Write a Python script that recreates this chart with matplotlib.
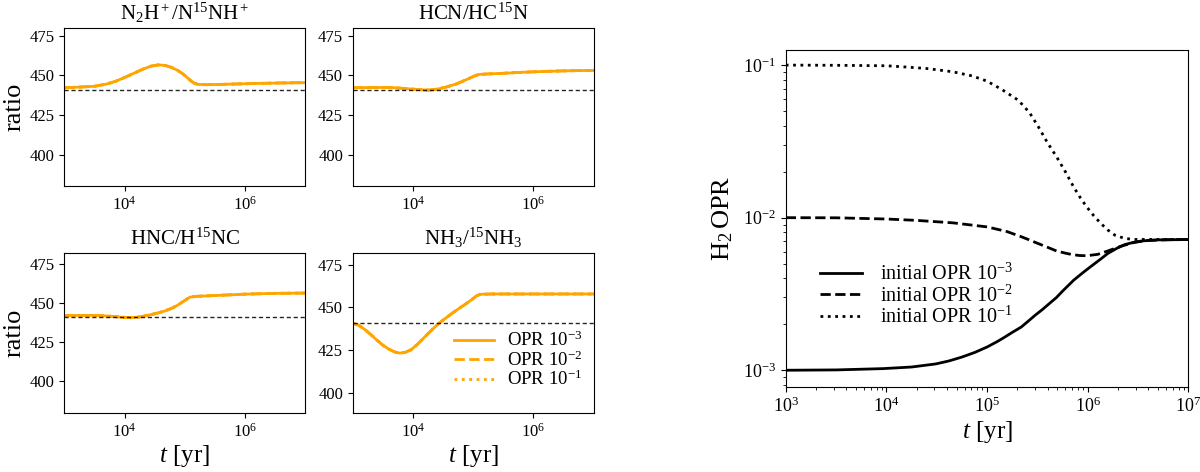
import matplotlib
matplotlib.use('Agg')
import matplotlib.pyplot as plt
from matplotlib.ticker import NullLocator, LogLocator
import numpy as np

plt.rcParams['font.family'] = ['Liberation Serif', 'DejaVu Serif']
plt.rcParams['mathtext.fontset'] = 'custom'
plt.rcParams['mathtext.rm'] = 'Liberation Serif'
plt.rcParams['mathtext.it'] = 'Liberation Serif:italic'
plt.rcParams['mathtext.bf'] = 'Liberation Serif:bold'

# ---- left panels: isotopic ratios (log10 t [yr], ratio) ----
titles = [r'N$_2$H$^+$/N$^{15}$NH$^+$', r'HCN/HC$^{15}$N',
          r'HNC/H$^{15}$NC', r'NH$_3$/$^{15}$NH$_3$']

n2hp_logt = [3.0, 3.25, 3.5, 3.7, 3.85, 4.0, 4.15, 4.3, 4.45, 4.57, 4.68, 4.78,
             4.88, 4.96, 5.03, 5.1, 5.16, 5.22, 5.35, 5.7, 6.2, 6.6, 7.0]
n2hp_ratio = [442.2, 442.6, 443.1, 444.5, 446.2, 448.6, 451.2, 453.8, 455.9, 456.6,
              456.2, 455.0, 453.2, 451.2, 449.0, 446.6, 445.0, 444.3, 444.1, 444.4,
              444.9, 445.2, 445.4]

hcn_logt = [3.0, 3.3, 3.62, 3.9, 4.1, 4.26, 4.4, 4.55, 4.73, 4.9, 5.02, 5.09,
            5.2, 5.5, 5.8, 6.2, 6.6, 7.0]
hcn_ratio = [442.2, 442.3, 442.4, 441.6, 441.0, 440.7, 441.3, 442.6, 444.7, 447.5,
             449.6, 450.5, 450.8, 451.3, 451.9, 452.5, 452.9, 453.1]

hnc_logt = [3.0, 3.3, 3.55, 3.75, 3.94, 4.1, 4.25, 4.38, 4.52, 4.66, 4.78, 4.88,
            4.97, 5.04, 5.09, 5.2, 5.5, 6.0, 6.5, 7.0]
hnc_ratio = [441.9, 442.0, 442.0, 441.5, 440.9, 440.5, 441.0, 442.0, 443.2, 444.7,
             446.5, 448.5, 450.8, 452.6, 453.8, 454.3, 454.8, 455.7, 456.2, 456.4]

nh3_logt = [3.0, 3.1, 3.2, 3.3, 3.4, 3.5, 3.6, 3.7, 3.78, 3.87, 3.97, 4.08, 4.2,
            4.32, 4.43, 4.55, 4.65, 4.76, 4.87, 4.98, 5.06, 5.12, 5.3, 6.0, 7.0]
nh3_ratio = [440.6, 439.5, 437.0, 434.0, 430.8, 427.8, 425.5, 423.8, 423.2, 423.6,
             425.2, 428.5, 432.8, 437.0, 440.6, 443.8, 446.5, 449.2, 451.8, 454.6,
             456.8, 457.6, 457.8, 457.8, 457.8]

initial_ratio = 441
ratio_ylims = [(380.3, 480.0), (380.3, 480.0), (379.3, 482.0), (388.3, 481.6)]
opr_labels = [r'OPR $10^{-3}$', r'OPR $10^{-2}$', r'OPR $10^{-1}$']

# ---- right panel: H2 ortho/para ratio ----
opr3_logt = [3.0, 3.5, 3.97, 4.25, 4.49, 4.62, 4.75, 4.88, 5.0, 5.1, 5.17, 5.25,
             5.34, 5.41, 5.48, 5.55, 5.62, 5.69, 5.75, 5.86, 5.95, 6.03, 6.12,
             6.2, 6.29, 6.37, 6.46, 6.54, 6.7, 7.0]
opr3 = [1.0e-3, 1.005e-3, 1.025e-3, 1.05e-3, 1.10e-3, 1.15e-3, 1.22e-3, 1.31e-3,
        1.42e-3, 1.54e-3, 1.64e-3, 1.77e-3, 1.92e-3, 2.1e-3, 2.3e-3, 2.5e-3,
        2.74e-3, 3.0e-3, 3.3e-3, 3.89e-3, 4.35e-3, 4.78e-3, 5.3e-3, 5.83e-3,
        6.3e-3, 6.67e-3, 6.9e-3, 7.04e-3, 7.15e-3, 7.19e-3]

opr2_logt = [3.0, 3.5, 4.0, 4.3, 4.66, 5.0, 5.1, 5.2, 5.34, 5.42, 5.5, 5.6, 5.69,
             5.78, 5.85, 5.92, 5.99, 6.1, 6.2, 6.33, 6.47, 6.6, 6.8, 7.0]
opr2 = [1.0e-2, 9.98e-3, 9.8e-3, 9.6e-3, 9.25e-3, 8.7e-3, 8.4e-3, 8.1e-3, 7.5e-3,
        7.15e-3, 6.8e-3, 6.4e-3, 6.05e-3, 5.85e-3, 5.72e-3, 5.65e-3, 5.63e-3,
        5.75e-3, 6.05e-3, 6.5e-3, 6.9e-3, 7.1e-3, 7.17e-3, 7.19e-3]

opr1_logt = [3.0, 3.5, 4.0, 4.15, 4.4, 4.66, 4.85, 5.0, 5.15, 5.31, 5.42, 5.51,
             5.6, 5.69, 5.78, 5.86, 5.93, 5.99, 6.06, 6.13, 6.2, 6.27, 6.37,
             6.47, 7.0]
opr1 = [0.1, 0.0997, 0.099, 0.0976, 0.095, 0.0904, 0.085, 0.0785, 0.069, 0.0589,
        0.049, 0.0394, 0.031, 0.0251, 0.0199, 0.0159, 0.0134, 0.01177, 0.0103,
        9.17e-3, 8.3e-3, 7.68e-3, 7.3e-3, 7.2e-3, 7.19e-3]

series = [(n2hp_logt, n2hp_ratio), (hcn_logt, hcn_ratio),
          (hnc_logt, hnc_ratio), (nh3_logt, nh3_ratio)]

fig = plt.figure(figsize=(12, 4.72), dpi=100)

# axes positions [left, bottom, width, height] in figure fractions
positions = [[0.0536, 0.6059, 0.2006, 0.3354], [0.2940, 0.6059, 0.2006, 0.3354],
             [0.0536, 0.1256, 0.2006, 0.3377], [0.2940, 0.1256, 0.2006, 0.3377]]
orange = '#ffa500'
styles = ['-', '--', ':']

for i, (pos, (lt, r)) in enumerate(zip(positions, series)):
    ax = fig.add_axes(pos)
    t = 10 ** np.array(lt)
    # the three initial OPRs give the same curves; solid drawn last, on top
    for ls, lab in reversed(list(zip(styles, opr_labels))):
        ax.plot(t, r, color=orange, ls=ls, lw=2, label=lab)
    ax.axhline(initial_ratio, color='k', ls='--', lw=1, dashes=(3, 2), alpha=0.85)
    ax.set_xscale('log')
    ax.set_xlim(1e3, 1e7)
    ax.set_ylim(*ratio_ylims[i])
    ax.set_xticks([1e4, 1e6])
    ax.xaxis.set_minor_locator(NullLocator())
    ax.set_yticks([400, 425, 450, 475])
    ax.tick_params(labelsize=12)
    ax.set_title(titles[i], fontsize=15, pad=6)
    if i % 2 == 0:
        ax.set_ylabel('ratio', fontsize=19, labelpad=3)
    if i >= 2:
        ax.set_xlabel(r'$t$ [yr]', fontsize=18, labelpad=2)
    if i == 3:
        h, l = ax.get_legend_handles_labels()
        ax.legend(h[::-1], l[::-1], loc='center right', bbox_to_anchor=(1.0, 0.33),
                  frameon=False, fontsize=13.5, handlelength=2.1, labelspacing=0.0,
                  handletextpad=0.7, borderaxespad=0.2)

axr = fig.add_axes([0.6548, 0.1807, 0.3355, 0.7127])
axr.plot(10 ** np.array(opr3_logt), opr3, 'k-', lw=2, label=r'initial OPR $10^{-3}$')
axr.plot(10 ** np.array(opr2_logt), opr2, 'k--', lw=2, label=r'initial OPR $10^{-2}$')
axr.plot(10 ** np.array(opr1_logt), opr1, 'k:', lw=2, label=r'initial OPR $10^{-1}$')
axr.set_xscale('log')
axr.set_yscale('log')
axr.set_xlim(1e3, 1e7)
axr.set_ylim(7.8e-4, 0.125)
axr.xaxis.set_major_locator(LogLocator(base=10, numticks=10))
axr.tick_params(labelsize=13)
axr.set_xlabel(r'$t$ [yr]', fontsize=18, labelpad=2)
axr.set_ylabel(r'H$_2\,$OPR', fontsize=19, labelpad=6)
axr.legend(loc='center left', bbox_to_anchor=(0.04, 0.27), frameon=False,
           fontsize=14.5, handlelength=2.1, labelspacing=0.0, handletextpad=0.9)

fig.savefig('out.png', dpi=100)
